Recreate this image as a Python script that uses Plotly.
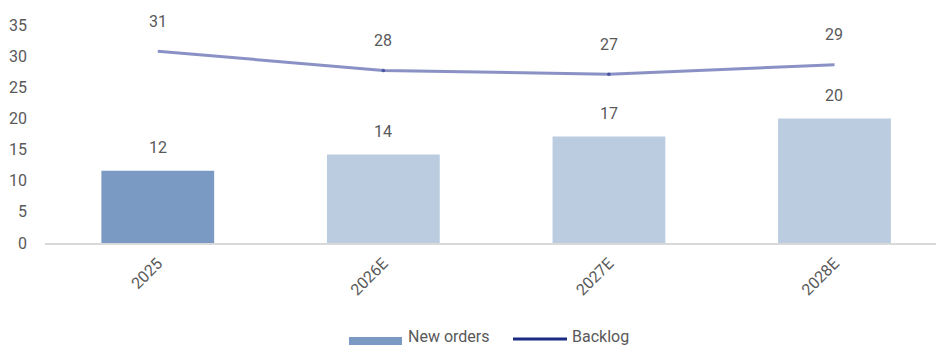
import plotly.graph_objects as go

# Chart data
years = ["2025", "2026E", "2027E", "2028E"]
new_orders = [11.6, 14.2, 17.1, 20.0]
backlog = [30.8, 27.7, 27.1, 28.6]
y_ticks = [0, 5, 10, 15, 20, 25, 30, 35]

W, H = 936, 345
ML, MR, MT, MB = 45, 0, 25, 102
PW, PH = W - ML - MR, H - MT - MB

TEXT = "#595959"
FONT = "Roboto"
FS = 16
BAR_ACTUAL = "#7A9AC3"
BAR_EST = "#BBCCE1"
NAVY = "#1B2A83"
LINE = "rgba(40,55,150,0.55)"

bar_colors = [BAR_ACTUAL if not y.endswith("E") else BAR_EST for y in years]
# joints between segments show as small darker dots
joint_sizes = [0 if i in (0, len(years) - 1) else 3 for i in range(len(years))]

fig = go.Figure()
fig.add_trace(go.Bar(
    x=years, y=new_orders, name="New orders",
    marker=dict(color=bar_colors, line=dict(width=0)),
    width=0.5, showlegend=False, hoverinfo="skip",
))
fig.add_trace(go.Scatter(
    x=years, y=backlog, name="Backlog", mode="lines+markers",
    line=dict(color=LINE, width=3),
    marker=dict(color="rgba(27,42,131,0.8)", size=joint_sizes),
    showlegend=False, hoverinfo="skip",
))

annotations = []
for i, v in enumerate(new_orders):
    annotations.append(dict(x=i, y=v, text=f"{v:.0f}", showarrow=False,
                            yshift=23, font=dict(family=FONT, size=FS, color=TEXT)))
for i, v in enumerate(backlog):
    annotations.append(dict(x=i, y=v, text=f"{v:.0f}", showarrow=False,
                            yshift=30, font=dict(family=FONT, size=FS, color=TEXT)))


def px_x(p):
    return (p - ML) / PW


def px_y(p):
    return (H - MB - p) / PH


# Legend drawn below the axis: wide swatch for bars, line sample for backlog
shapes = [
    dict(type="rect", xref="paper", yref="paper",
         x0=px_x(349), x1=px_x(402), y0=px_y(337), y1=px_y(350),
         fillcolor=BAR_ACTUAL, line=dict(width=0)),
    dict(type="line", xref="paper", yref="paper",
         x0=px_x(513), x1=px_x(567), y0=px_y(339), y1=px_y(339),
         line=dict(color=NAVY, width=3)),
]
annotations += [
    dict(xref="paper", yref="paper", x=px_x(406), y=px_y(336.5), text="New orders",
         showarrow=False, xanchor="left", yanchor="middle",
         font=dict(family=FONT, size=FS, color=TEXT)),
    dict(xref="paper", yref="paper", x=px_x(570), y=px_y(336.5), text="Backlog",
         showarrow=False, xanchor="left", yanchor="middle",
         font=dict(family=FONT, size=FS, color=TEXT)),
]

fig.update_layout(
    width=W, height=H,
    margin=dict(l=ML, r=MR, t=MT, b=MB, pad=0),
    paper_bgcolor="white", plot_bgcolor="white",
    font=dict(family=FONT, size=FS, color=TEXT),
    showlegend=False,
    bargap=0.5,
    shapes=shapes,
    annotations=annotations,
    xaxis=dict(
        type="category", range=[-0.5, 3.45],
        showgrid=False, zeroline=False,
        showline=True, linecolor="#D9D9D9", linewidth=1.5,
        ticks="", tickangle=-45, ticklabelstandoff=3,
        tickfont=dict(family=FONT, size=FS, color=TEXT),
    ),
    yaxis=dict(
        range=[0, 35], tickmode="array", tickvals=y_ticks,
        showgrid=False, zeroline=False, showline=False,
        ticks="", ticklabelstandoff=17,
        tickfont=dict(family=FONT, size=FS, color=TEXT),
    ),
)

fig.write_html("out.html")
